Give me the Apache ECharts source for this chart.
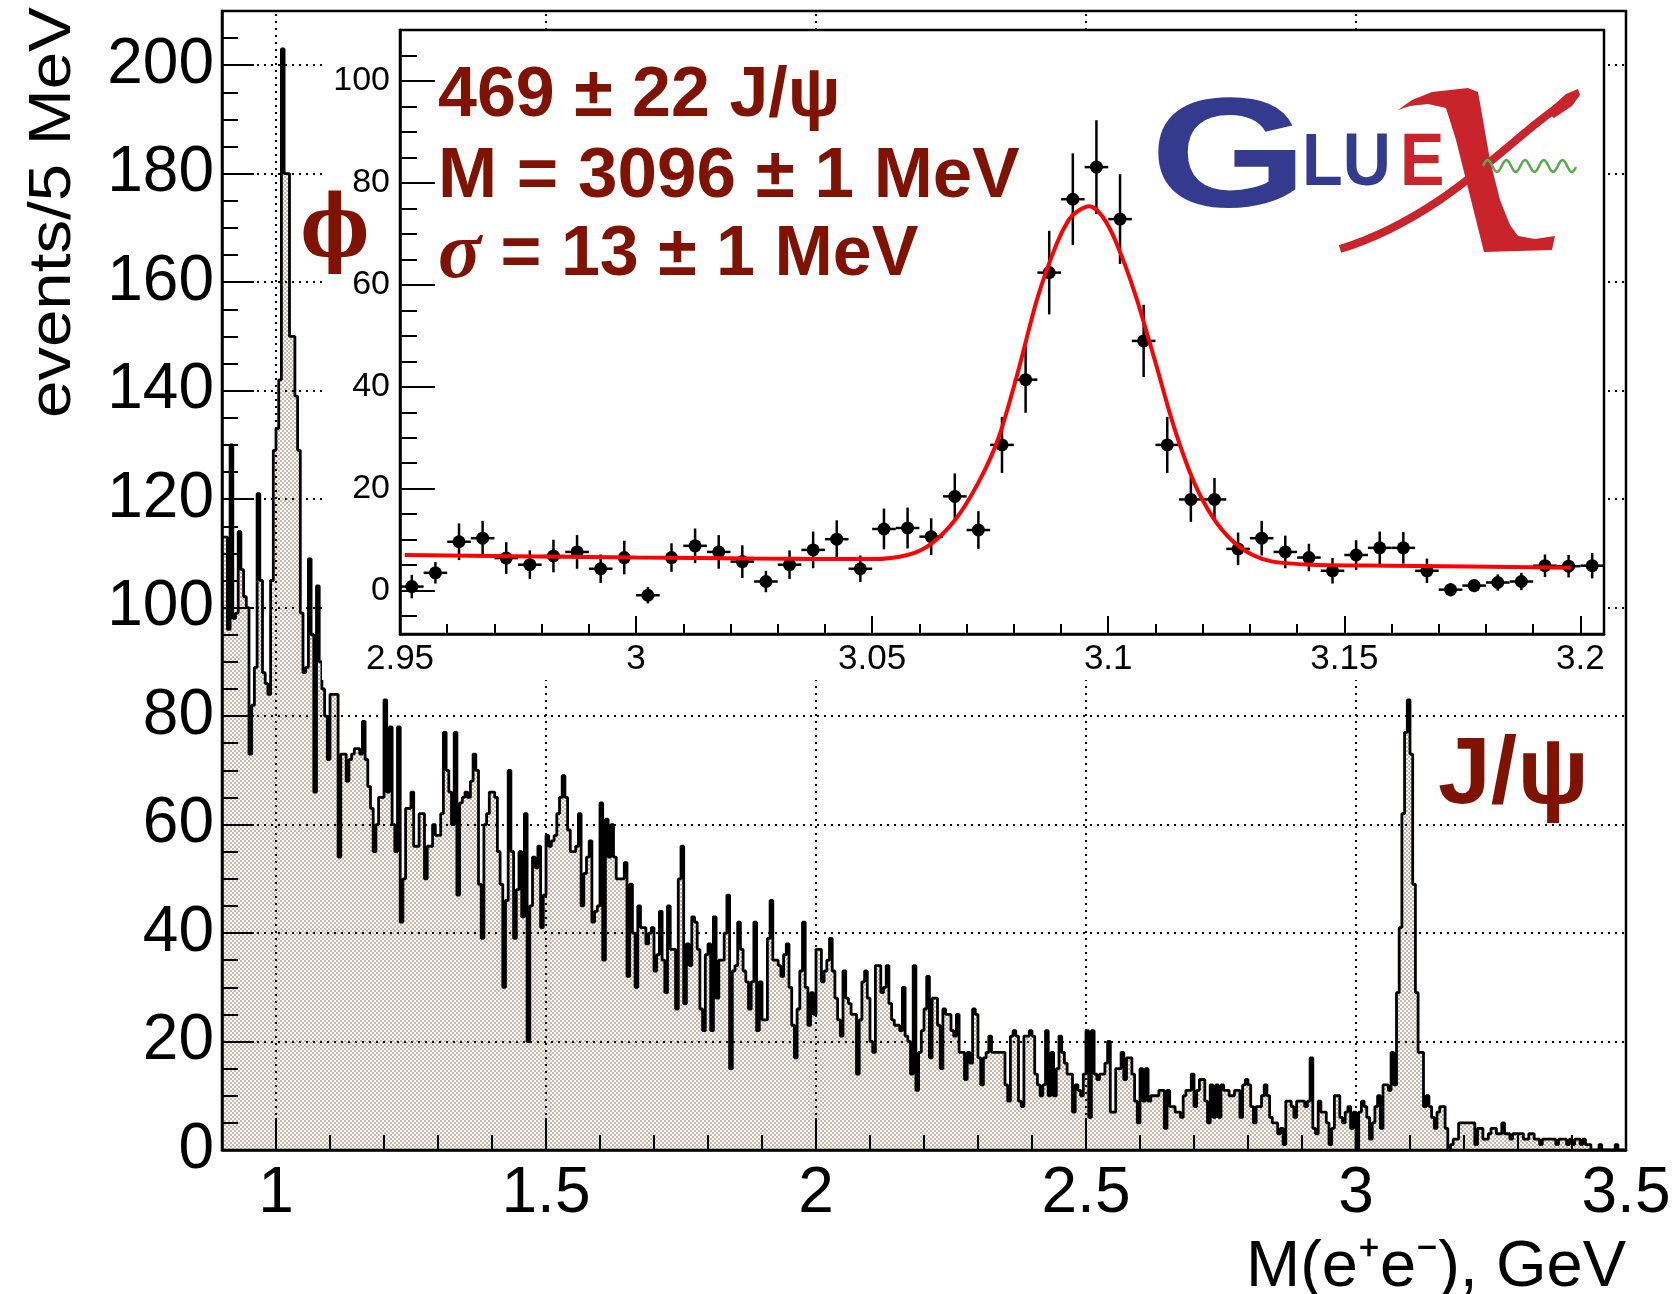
<!DOCTYPE html>
<html>
<head>
<meta charset="utf-8">
<title>M(e+e-) GlueX</title>
<script src="https://cdn.jsdelivr.net/npm/echarts@6/dist/echarts.min.js"></script>
<style>
  html, body { margin: 0; padding: 0; background: #fff; }
  #chart { width: 1679px; height: 1294px; }
</style>
</head>
<body>
<div id="chart"></div>
<script>
// e+e- invariant mass, 5 MeV bins starting at 0.9 GeV
const binStart = 0.9;
const binWidth = 0.005;
const mainCounts = [
  113, 113, 96, 130, 98, 99, 114, 107, 102, 100,   // 0.90
  73, 82, 89, 121, 105, 88, 86, 84, 105, 129,      // 0.95
  133, 142, 203, 180, 180, 150, 150, 139, 129, 99, // 1.00
  88, 89, 109, 95, 66, 104, 90, 85, 80, 72,        // 1.05
  84, 84, 84, 54, 73, 73, 68, 72, 73, 74,          // 1.10
  74, 73, 79, 72, 67, 63, 55, 60, 65, 65,          // 1.15
  83, 66, 78, 60, 55, 78, 42, 50, 63, 63,          // 1.20
  66, 56, 56, 62, 62, 50, 56, 56, 60, 58,          // 1.25
  58, 62, 77, 70, 66, 60, 77, 47, 64, 65,          // 1.30
  66, 65, 68, 73, 70, 49, 39, 60, 62, 66,          // 1.35
  66, 65, 55, 49, 30, 46, 70, 55, 39, 48,          // 1.40
  55, 43, 62, 20, 45, 54, 52, 56, 41, 47,          // 1.45
  58, 56, 57, 58, 62, 65, 69, 65, 59, 55,          // 1.50
  55, 56, 62, 45, 51, 54, 57, 42, 44, 45,          // 1.55
  64, 35, 61, 54, 60, 54, 50, 50, 50, 53,          // 1.60
  32, 49, 40, 30, 45, 41, 41, 38, 40, 41,          // 1.65
  33, 36, 44, 35, 29, 45, 37, 37, 26, 50,          // 1.70
  56, 27, 38, 34, 43, 42, 37, 26, 22, 36,          // 1.75
  38, 22, 43, 28, 35, 35, 40, 47, 15, 33,          // 1.80
  34, 42, 37, 33, 31, 26, 31, 42, 22, 31,          // 1.85
  24, 24, 39, 46, 35, 35, 34, 32, 36, 38,          // 1.90
  30, 23, 17, 26, 33, 42, 30, 23, 29, 25,          // 1.95
  37, 37, 31, 33, 35, 39, 33, 28, 24, 21,          // 2.00
  33, 28, 27, 25, 25, 14, 24, 31, 33, 28,          // 2.05
  20, 18, 34, 34, 29, 30, 34, 27, 24, 23,          // 2.10
  23, 22, 30, 21, 20, 14, 34, 11, 18, 22,          // 2.15
  26, 32, 17, 28, 28, 23, 15, 26, 25, 25,          // 2.20
  22, 21, 25, 18, 18, 13, 18, 16, 26, 25,          // 2.25
  17, 12, 17, 18, 21, 18, 18, 18, 18, 18,          // 2.30
  12, 9, 21, 22, 21, 9, 8, 21, 21, 22,             // 2.35
  21, 14, 12, 10, 12, 22, 10, 18, 10, 15,          // 2.40
  21, 18, 16, 14, 14, 7, 12, 11, 10, 14,           // 2.45
  22, 6, 22, 14, 13, 14, 14, 16, 20, 7,            // 2.50
  7, 15, 15, 18, 13, 17, 17, 14, 9, 5,             // 2.55
  15, 9, 15, 9, 10, 10, 10, 11, 11, 4,             // 2.60
  11, 8, 8, 7, 7, 6, 10, 11, 11, 14,               // 2.65
  8, 11, 13, 13, 9, 5, 12, 6, 12, 6,               // 2.70
  12, 11, 11, 10, 10, 11, 11, 6, 12, 13,           // 2.75
  12, 8, 5, 8, 8, 10, 12, 10, 6, 5,                // 2.80
  5, 3, 4, 1, 9, 9, 8, 6, 9, 9,                    // 2.85
  9, 8, 9, 17, 4, 3, 9, 7, 7, 5,                   // 2.90
  1, 4, 10, 10, 6, 5, 7, 8, 4, 7,                  // 2.95
  0, 7, 9, 8, 6, 2, 5, 8, 10, 4,                   // 3.00
  12, 12, 11, 18, 12, 29, 41, 62, 77, 83,          // 3.05
  73, 49, 29, 18, 18, 8, 10, 8, 6, 4,              // 3.10
  7, 8, 8, 4, 0, 1, 2, 2, 5, 5,                    // 3.15
  5, 5, 5, 5, 1, 4, 4, 2, 2, 3,                    // 3.20
  4, 4, 3, 3, 5, 3, 3, 2, 3, 3,                    // 3.25
  3, 3, 2, 2, 3, 3, 2, 2, 1, 2,                    // 3.30
  2, 2, 2, 2, 1, 2, 2, 2, 1, 2,                    // 3.35
  1, 2, 2, 1, 2, 1, 1, 0, 0, 0,                    // 3.40
  1, 0, 0, 0, 0, 0, 1, 0, 0, 0                     // 3.45
];

// inset: 2.95 - 3.205 GeV, same 5 MeV bins
const insetStart = 2.95;
const insetCounts = [
  0.8, 3.5, 9.6, 10.3, 6.4, 5.1, 6.8, 7.6, 4.3, 6.5,
  -0.9, 6.5, 8.8, 7.6, 5.7, 1.8, 5.1, 8.0, 10.1, 4.3,
  12.1, 12.3, 10.6, 18.5, 11.9, 28.6, 41.4, 62.4, 76.8, 83.1,
  72.9, 49.0, 28.6, 17.9, 17.9, 8.2, 10.3, 7.6, 6.5, 3.9,
  7.0, 8.4, 8.4, 3.9, 0.2, 1.0, 1.6, 1.8, 4.9, 4.8,
  4.9
];
const insetErrors = [
  2.3, 2.1, 3.6, 3.4, 3.1, 2.8, 3.2, 3.3, 2.8, 3.3,
  1.6, 2.8, 3.4, 3.3, 3.2, 2.1, 2.8, 3.6, 3.7, 2.6,
  4.0, 4.0, 3.6, 4.5, 3.7, 5.5, 6.5, 8.2, 9.0, 9.2,
  8.8, 7.1, 5.5, 4.4, 4.2, 3.2, 3.4, 3.2, 2.7, 2.5,
  2.9, 3.2, 3.1, 2.4, 1.3, 1.3, 1.6, 1.7, 2.2, 2.2,
  2.5
];

// fit curve
const fitMass = [2.951, 3.0, 3.025, 3.05, 3.0575, 3.0625, 3.0675, 3.0725, 3.0767, 3.0809,
  3.085, 3.0891, 3.0916, 3.0933, 3.096, 3.0987, 3.1016, 3.1057, 3.1099, 3.114,
  3.1182, 3.1223, 3.1265, 3.1306, 3.1348, 3.1431, 3.16, 3.198];
const fitValues = [7.0, 6.5, 6.3, 6.2, 7.0, 9.2, 13.8, 21.2, 29.8, 43.0,
  57.4, 68.1, 72.7, 74.3, 75.4, 73.5, 68.5, 58.2, 45.1, 31.9,
  21.2, 14.2, 9.6, 7.0, 5.7, 5.1, 4.9, 4.5];

const mainXTicks = [1, 1.5, 2, 2.5, 3, 3.5];
const mainYTicks = [0, 20, 40, 60, 80, 100, 120, 140, 160, 180, 200];
const insetXTicks = [2.95, 3, 3.05, 3.1, 3.15, 3.2];
const insetYTicks = [0, 20, 40, 60, 80, 100];

const darkRed = '#7f1200';
const sans = '"Liberation Sans", Arial, Helvetica, sans-serif';

function steps(from, to, step) {
  const out = [];
  for (let v = from; v <= to + 1e-9; v += step) out.push(+v.toFixed(4));
  return out;
}
const mainXMinor = steps(0.9, 3.5, 0.1).filter(v => !mainXTicks.includes(v));
const mainYMinor = steps(5, 205, 5).filter(v => !mainYTicks.includes(v));
const insetXMinor = steps(2.96, 3.2, 0.01).filter(v => !insetXTicks.includes(v));
const insetYMinor = steps(-5, 105, 5).filter(v => !insetYTicks.includes(v));

const fmt = v => String(+(+v).toFixed(3));

// checker fill like the ROOT hatch
const pat = document.createElement('canvas');
pat.width = 4; pat.height = 4;
const pg = pat.getContext('2d');
pg.fillStyle = '#fbfaf8'; pg.fillRect(0, 0, 4, 4);
pg.fillStyle = '#c4b9ae'; pg.fillRect(0, 0, 2, 2); pg.fillRect(2, 2, 2, 2);

const mainData = mainCounts.map((v, i) => [binStart + i * binWidth, v]);
mainData.push([binStart + mainCounts.length * binWidth, mainCounts[mainCounts.length - 1]]);

const insetData = insetCounts.map((v, i) => [insetStart + (i + 0.5) * binWidth, v, insetErrors[i]]);
const fitData = fitMass.map((m, i) => [m, fitValues[i]]);

const gridLines = [1, 1.5, 2, 2.5, 3].map(v => ({ xAxis: v }))
  .concat(mainYTicks.filter(v => v > 0).map(v => ({ yAxis: v })));

// wavy gluon line of the logo
const wave = [];
for (let i = 0; i <= 60; i++) {
  const x = 1483 + i * 1.55;
  wave.push([x, 166 - 6 * Math.sin(2 * Math.PI * (x - 1483) / 18.7)]);
}

function tickAxis(grid, min, max, pos, ticks, len, labels) {
  return {
    gridIndex: grid, type: 'value', min: min, max: max, position: pos, z: grid === 0 ? 3 : 11,
    axisLine: { show: !!labels, onZero: false, lineStyle: { color: '#000', width: 2.5 } },
    axisTick: { show: true, inside: true, length: len, customValues: ticks, lineStyle: { color: '#000', width: 2 } },
    axisLabel: labels ? Object.assign({ customValues: ticks, formatter: fmt, color: '#000', fontFamily: sans }, labels) : { show: false },
    splitLine: { show: false }
  };
}

const chart = echarts.init(document.getElementById('chart'));
chart.setOption({
  animation: false,
  backgroundColor: '#fff',
  grid: [
    { left: 222, top: 11, width: 1404, height: 1139, show: true, borderColor: '#000', borderWidth: 2.5, backgroundColor: 'transparent', z: 3 },
    { left: 400, top: 30, width: 1204, height: 604, show: true, borderColor: '#000', borderWidth: 2.5, backgroundColor: '#fff', z: 10 }
  ],
  xAxis: [
    tickAxis(0, 0.9, 3.5, 'bottom', mainXTicks, 32, { fontSize: 64, margin: 12 }),
    tickAxis(0, 0.9, 3.5, 'bottom', mainXMinor, 15, null),
    tickAxis(1, 2.95, 3.205, 'bottom', insetXTicks, 18, { fontSize: 35, margin: 8 }),
    tickAxis(1, 2.95, 3.205, 'bottom', insetXMinor, 10, null)
  ],
  yAxis: [
    tickAxis(0, 0, 210, 'left', mainYTicks, 32, { fontSize: 64, margin: 8, padding: [19, 0, 0, 0] }),
    tickAxis(0, 0, 210, 'left', mainYMinor, 16, null),
    tickAxis(1, -8.5, 110, 'left', insetYTicks, 35, { fontSize: 34, margin: 10 }),
    tickAxis(1, -8.5, 110, 'left', insetYMinor, 17, null)
  ],
  series: [
    {
      type: 'line', xAxisIndex: 0, yAxisIndex: 0, step: 'end', symbol: 'none', z: 2,
      data: mainData,
      lineStyle: { color: '#000', width: 2.8 },
      areaStyle: { color: { image: pat, repeat: 'repeat' }, opacity: 1 },
      markLine: {
        silent: true, symbol: ['none', 'none'], label: { show: false }, emphasis: { disabled: true },
        lineStyle: { color: '#000', type: [2, 5], width: 2 },
        data: gridLines
      }
    },
    {
      type: 'custom', xAxisIndex: 2, yAxisIndex: 2, z: 12, data: insetData,
      renderItem: function (params, api) {
        const x = api.value(0), y = api.value(1), e = api.value(2);
        const c = api.coord([x, y]);
        const l = api.coord([x - binWidth / 2, y]);
        const r = api.coord([x + binWidth / 2, y]);
        const t = api.coord([x, y + e]);
        const b = api.coord([x, y - e]);
        return {
          type: 'group', children: [
            { type: 'line', shape: { x1: l[0], y1: c[1], x2: r[0], y2: c[1] }, style: { stroke: '#000', lineWidth: 2.5 } },
            { type: 'line', shape: { x1: c[0], y1: t[1], x2: c[0], y2: b[1] }, style: { stroke: '#000', lineWidth: 2.5 } },
            { type: 'circle', shape: { cx: c[0], cy: c[1], r: 6.5 }, style: { fill: '#000' } }
          ]
        };
      }
    },
    {
      type: 'line', xAxisIndex: 2, yAxisIndex: 2, z: 13, data: fitData,
      smooth: 0.3, symbol: 'none', lineStyle: { color: '#ff0000', width: 4 }
    }
  ],
  graphic: [
    // inset pad area around the inset frame
    { type: 'rect', z: 9, silent: true, shape: { x: 322, y: 30, width: 1282, height: 650 }, style: { fill: '#fff' } },
    { type: 'text', z: 20, x: 335, y: 234, scaleX: 0.85, style: { text: '\u03D5', font: 'bold 86px "DejaVu Serif", "Liberation Serif", serif', fill: darkRed, align: 'center', verticalAlign: 'middle' } },
    { type: 'text', z: 20, x: 1438, y: 777, style: { text: 'J/\u03C8', font: 'bold 95px ' + sans, fill: darkRed, align: 'left', verticalAlign: 'middle' } },
    { type: 'text', z: 20, x: 438, y: 97, style: { text: '469 \u00B1 22 J/\u03C8', font: 'bold 70px ' + sans, fill: darkRed, align: 'left', verticalAlign: 'middle' } },
    { type: 'text', z: 20, x: 438, y: 177, style: { text: 'M = 3096 \u00B1 1 MeV', font: 'bold 71px ' + sans, fill: darkRed, align: 'left', verticalAlign: 'middle' } },
    {
      type: 'text', z: 20, x: 438, y: 256, style: {
        text: '{s|\u03C3} = 13 \u00B1 1 MeV', font: 'bold 70px ' + sans, fill: darkRed, align: 'left', verticalAlign: 'middle',
        rich: { s: { font: 'italic bold 80px "Liberation Serif", serif', fill: darkRed } }
      }
    },
    // GlueX logo
    { type: 'text', z: 20, x: 1150, y: 163, scaleX: 1.31, style: { text: 'G', font: 'bold 155px ' + sans, fill: '#343a8d', align: 'left', verticalAlign: 'middle' } },
    { type: 'text', z: 20, x: 1302, y: 165, scaleX: 0.9, style: { text: 'LU', font: 'bold 74px ' + sans, fill: '#343a8d', align: 'left', verticalAlign: 'middle' } },
    { type: 'text', z: 20, x: 1400, y: 165, scaleX: 0.9, style: { text: 'E', font: 'bold 74px ' + sans, fill: '#c9242c', align: 'left', verticalAlign: 'middle' } },
    {
      type: 'polygon', z: 21, shape: {
        points: [[1398, 110], [1412, 100], [1432, 92], [1468, 88], [1478, 92], [1483, 120], [1490, 160], [1500, 200],
          [1510, 225], [1518, 236], [1535, 239], [1555, 236], [1552, 250], [1484, 252], [1476, 220], [1466, 180],
          [1456, 140], [1446, 108], [1428, 104], [1410, 106]]
      }, style: { fill: '#c9242c' }
    },
    { type: 'bezierCurve', z: 21, shape: { x1: 1566, y1: 102, cpx1: 1520, cpy1: 128, cpx2: 1450, cpy2: 215, x2: 1340, y2: 249 }, style: { stroke: '#c9242c', lineWidth: 8, fill: null } },
    { type: 'polygon', z: 21, shape: { points: [[1546, 112], [1566, 94], [1578, 89], [1580, 95], [1572, 106], [1554, 118]] }, style: { fill: '#c9242c' } },
    { type: 'polyline', z: 22, shape: { points: wave }, style: { stroke: '#5aa84f', lineWidth: 2.5, fill: null } },
    // axis titles
    { type: 'text', z: 20, x: 83, y: 418, rotation: Math.PI / 2, scaleX: 1.12, style: { text: 'events/5 MeV', font: '60px ' + sans, fill: '#000', align: 'left', verticalAlign: 'bottom' } },
    { type: 'text', z: 20, x: 1626, y: 1268, style: { text: 'M(e\u207Ae\u207B), GeV', font: '65px ' + sans, fill: '#000', align: 'right', verticalAlign: 'middle' } }
  ]
});
</script>
</body>
</html>
